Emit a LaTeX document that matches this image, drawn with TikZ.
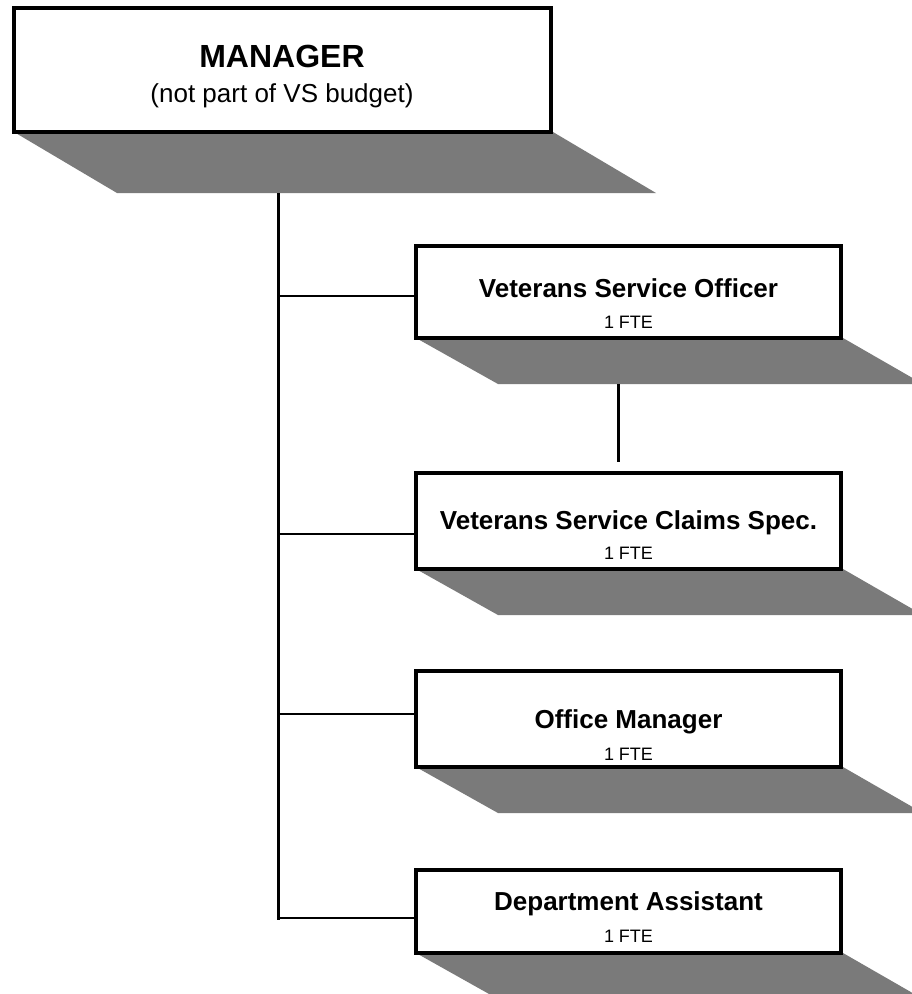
\documentclass[tikz,border=0pt]{standalone}
\usepackage{fontspec}
\setmainfont{Liberation Sans}
\begin{document}
\begin{tikzpicture}[x=1pt,y=-1pt,
  boxnode/.style={draw=black,fill=white,line width=4pt,inner sep=0pt,minimum width=425pt},
  shade/.style={fill=black!52,draw=none},
  trunk/.style={line width=3pt},
  branch/.style={line width=2.6pt},
  ttl/.style={anchor=base,inner sep=0pt,font=\bfseries\fontsize{26}{30}\selectfont},
  fte/.style={anchor=base,inner sep=0pt,font=\fontsize{18}{22}\selectfont}]
\clip (0,0) rectangle (912,994);
\fill[white] (0,0) rectangle (912,994);
% shadows
\path[shade] (14,132) -- (553,132) -- (656,193) -- (117,193) -- cycle;
\path[shade] (416,338) -- (843,338) -- (923,384) -- (498,384) -- cycle;
\path[shade] (416,569) -- (843,569) -- (923,615) -- (498,615) -- cycle;
\path[shade] (416,767) -- (843,767) -- (923,813) -- (498,813) -- cycle;
\path[shade] (416,953) -- (843,953) -- (923,999) -- (498,999) -- cycle;
% boxes
\node[boxnode,minimum width=537pt,minimum height=124pt] (mgr) at (282.5,70) {};
\node[boxnode,minimum height=92pt] (vso) at (628.5,292) {};
\node[boxnode,minimum height=96pt] (vscs) at (628.5,521) {};
\node[boxnode,minimum height=96pt] (om) at (628.5,719) {};
\node[boxnode,minimum height=83pt] (da) at (628.5,911.5) {};
% texts
\node[anchor=base,inner sep=0pt,font=\bfseries\fontsize{32}{38}\selectfont] (mgrt) at (282,67) {MANAGER};
\node[anchor=base,inner sep=0pt,font=\fontsize{26}{30}\selectfont] (mgrs) at (282,102) {(not part of VS budget)};
\node[ttl] (vsot) at (628.5,297) {Veterans Service Officer};
\node[fte] (vsof) at (628.5,328) {1 FTE};
\node[ttl] (vscst) at (628.5,529) {Veterans Service Claims Spec.};
\node[fte] (vscsf) at (628.5,559) {1 FTE};
\node[ttl] (omt) at (628.5,728) {Office Manager};
\node[fte] (omf) at (628.5,760) {1 FTE};
\node[ttl] (dat) at (628.5,910) {Department Assistant};
\node[fte] (daf) at (628.5,942) {1 FTE};
% connectors
\coordinate (top) at (278,193);
\coordinate (bot) at (278,920);
\coordinate (b1) at (278,296);
\coordinate (b2) at (278,534);
\coordinate (b3) at (278,714);
\coordinate (b4) at (278,918);
\draw[trunk] (top) -- (bot);
\draw[branch] (b1) -- (b1 -| vso.west);
\draw[branch] (b2) -- (b2 -| vscs.west);
\draw[branch] (b3) -- (b3 -| om.west);
\draw[branch] (b4) -- (b4 -| da.west);
\coordinate (s1) at (618,384);
\coordinate (s2) at (618,462);
\draw[trunk] (s1) -- (s2);
\end{tikzpicture}
\end{document}
